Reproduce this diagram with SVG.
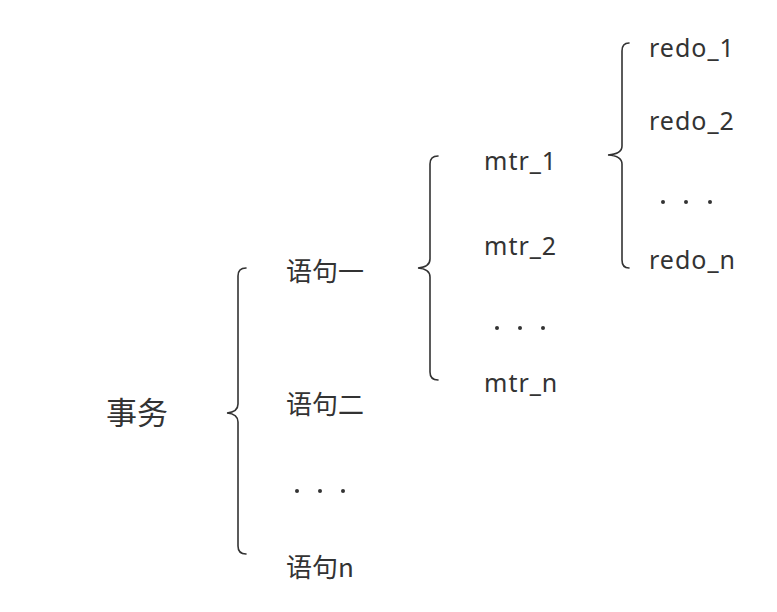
<svg xmlns="http://www.w3.org/2000/svg" width="777" height="612" viewBox="0 0 777 612">
<style>
.t{font-family:"Noto Sans","Noto Sans CJK SC",sans-serif;fill:#333;font-size:25px;letter-spacing:1px}
.c{font-family:"Noto Sans CJK SC","Noto Sans",sans-serif;fill:#333;font-size:26px}
.b{fill:none;stroke:#333;stroke-width:1.6;stroke-linecap:round}
.d{fill:#333}
</style>
<rect width="777" height="612" fill="#fff"/>
<g id="root"><text class="c" x="106" y="424" style="font-size:31px">事务</text></g>
<g id="connectors">
<path class="b" d="M246,268 Q238,268 238,276 L238,404 Q238,412 227,413 Q238,414 238,422 L238,546 Q238,554 246,554"/>
<path class="b" d="M438,156 Q430,156 430,164 L430,259 Q430,267 418,268 Q430,269 430,277 L430,372 Q430,380 438,380"/>
<path class="b" d="M629,43 Q622,43 622,51 L622,146 Q622,154 608,155 Q622,156 622,164 L622,260 Q622,268 629,268"/>
</g>
<g id="s1"><text class="c" x="286" y="281">语句一</text></g>
<g id="s2"><text class="c" x="286" y="414">语句二</text></g>
<g id="sdots"><circle class="d" cx="297" cy="491" r="2"/><circle class="d" cx="320" cy="491" r="2"/><circle class="d" cx="343" cy="491" r="2"/></g>
<g id="sn"><text class="c" x="286" y="577">语句n</text></g>
<g id="m1"><text class="t" x="484" y="170">mtr_1</text></g>
<g id="m2"><text class="t" x="484" y="255">mtr_2</text></g>
<g id="mdots"><circle class="d" cx="497" cy="328" r="2"/><circle class="d" cx="520" cy="328" r="2"/><circle class="d" cx="543" cy="328" r="2"/></g>
<g id="mn"><text class="t" x="484" y="392">mtr_n</text></g>
<g id="r1"><text class="t" x="649" y="57">redo_1</text></g>
<g id="r2"><text class="t" x="649" y="130">redo_2</text></g>
<g id="rdots"><circle class="d" cx="663" cy="202" r="2"/><circle class="d" cx="686" cy="202" r="2"/><circle class="d" cx="710" cy="202" r="2"/></g>
<g id="rn"><text class="t" x="649" y="269">redo_n</text></g>
</svg>
